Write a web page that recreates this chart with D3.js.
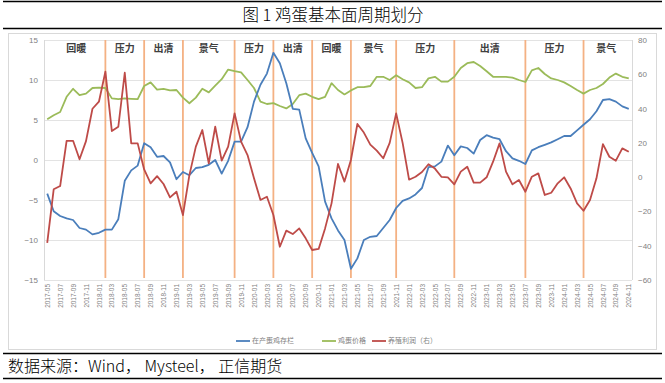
<!DOCTYPE html>
<html>
<head>
<meta charset="utf-8">
<script src="https://cdn.jsdelivr.net/npm/d3@7"></script>
<style>
  body { margin: 0; background: #fff; }
  svg { display: block; font-family: "Liberation Sans", Arial, sans-serif; }
  .cjk { font-family: "Noto Sans CJK SC", sans-serif; }
</style>
</head>
<body>
<svg width="665" height="383"></svg>
<script>
// month categories 2017-05 .. 2024-11
var months = d3.timeMonth.range(new Date(2017, 4, 1), new Date(2024, 11, 1))
  .map(d3.timeFormat("%Y-%m"));

// 在产蛋鸡存栏 (left)
var stock = [-4.2, -6.4, -7.0, -7.3, -7.5, -8.5, -8.7, -9.3, -9.1, -8.7,
  -8.7, -7.4, -2.6, -1.3, -0.7, 2.1, 1.6, 0.4, 0.5, -0.3,
  -2.4, -1.5, -1.9, -1.0, -0.9, -0.6, 0.0, -1.7, -0.1, 2.3,
  2.3, 4.1, 7.3, 9.4, 10.8, 13.4, 12.1, 9.6, 6.4, 6.3,
  2.7, 0.9, -0.8, -5.2, -7.3, -8.8, -10.0, -13.6, -12.3, -10.0,
  -9.6, -9.5, -8.5, -7.5, -6.0, -5.1, -4.8, -4.3, -3.5, -0.9,
  -0.8, -0.2, 1.8, 0.6, 1.7, 1.5, 0.8, 2.5, 3.1, 2.8,
  2.6, 1.1, 0.2, -0.1, -0.5, 1.2, 1.6, 1.9, 2.2, 2.6,
  3.0, 3.0, 3.7, 4.4, 5.1, 6.1, 7.5, 7.6, 7.3, 6.7, 6.4];

// 鸡蛋价格 (left)
var price = [5.1, 5.6, 6.0, 7.9, 8.9, 8.1, 8.3, 9.0, 9.05, 9.0,
  7.7, 7.6, 7.7, 7.65, 7.6, 9.25, 9.7, 8.8, 8.9, 8.7,
  8.75, 7.8, 7.1, 7.8, 8.9, 8.45, 9.3, 10.1, 11.3, 11.1,
  10.95, 10.0, 9.0, 7.3, 7.0, 7.1, 6.75, 6.45, 7.0, 8.1,
  8.3, 7.9, 7.6, 7.9, 9.6, 8.75, 8.2, 8.7, 9.1, 9.1,
  9.25, 10.4, 10.4, 10.0, 10.6, 10.1, 9.7, 9.0, 9.1, 10.2,
  10.4, 9.8, 9.8, 10.4, 11.5, 12.1, 12.25, 11.75, 11.1, 10.4,
  10.4, 10.4, 10.3, 10.0, 9.75, 11.2, 11.5, 10.75, 10.2, 10.0,
  9.7, 9.25, 8.75, 8.3, 8.75, 9.0, 9.5, 10.3, 10.8, 10.4, 10.2];

// 养殖利润 (right)
var profit = [-38.3, -7.1, -5.2, 21.2, 21.2, 10.4, 21.0, 39.9, 44.0, 61.5,
  26.9, 29.4, 60.9, 19.7, 19.7, 4.5, -3.6, 0.6, -4.0, -11.8,
  -8.5, -22.1, 1.2, 17.8, 27.5, 8.0, 29.4, 9.6, 17.8, 37.2,
  20.7, 12.9, -0.7, -13.3, -11.4, -22.1, -40.6, -31.2, -33.2, -29.9,
  -35.7, -42.5, -41.9, -29.9, -15.3, 7.7, -2.6, 10.0, 31.0, 26.0,
  19.0, 15.5, 11.0, 20.0, 37.2, 20.0, -1.5, 0.2, 3.0, 7.5,
  5.0, 0.2, -0.1, -4.2, 3.2, 6.1, -3.2, -3.2, -0.1, 9.0,
  19.7, 3.2, -4.2, -1.7, -8.5, 0.25, 2.2, -10.4, -9.1, -3.6,
  -0.1, -6.6, -15.3, -19.6, -13.3, -0.7, 19.3, 11.9, 9.6, 16.8, 14.8];

var phaseBreaks = ["2018-02", "2018-08", "2019-02", "2019-10", "2020-04", "2020-10",
  "2021-04", "2021-11", "2022-08", "2023-07", "2024-04"];
var phaseNames = ["回暖", "压力", "出清", "景气", "压力", "出清",
  "回暖", "景气", "压力", "出清", "压力", "景气"];

var leftTicks = [-15, -10, -5, 0, 5, 10, 15];
var rightTicks = [-60, -40, -20, 0, 20, 40, 60, 80];
var xTicks = months.filter(function (d, i) { return i % 2 === 0; });

var svg = d3.select("svg");
var margin = { top: 40, left: 44, right: 33, bottom: 103 };
var x0 = margin.left, x1 = 665 - margin.right;
var y0 = margin.top, y1 = 383 - margin.bottom;

// title and frame rules
svg.append("line").attr("x1", 3).attr("x2", 662).attr("y1", 1.5).attr("y2", 1.5)
  .attr("stroke", "#000").attr("stroke-width", 1.5);
svg.append("line").attr("x1", 3).attr("x2", 662).attr("y1", 28.5).attr("y2", 28.5)
  .attr("stroke", "#000").attr("stroke-width", 1.5);
svg.append("text").attr("class", "cjk").attr("x", 333).attr("y", 20.5)
  .attr("text-anchor", "middle").attr("font-size", 16.5).attr("font-weight", 300)
  .attr("fill", "#000")
  .text("图 1 鸡蛋基本面周期划分");
svg.append("rect").attr("x", 8.5).attr("y", 33.5).attr("width", 648).attr("height", 316)
  .attr("fill", "none").attr("stroke", "#d9d9d9");

// scales
var x = d3.scalePoint().domain(months).range([x0, x1]).padding(0.5);
var yL = d3.scaleLinear().domain([-15, 15]).range([y1, y0]);
var yR = d3.scaleLinear().domain([-60, 80]).range([y1, y0]);

// grid
svg.append("g").selectAll("line").data(leftTicks).join("line")
  .attr("x1", x0).attr("x2", x1)
  .attr("y1", function (d) { return Math.round(yL(d)) + 0.5; })
  .attr("y2", function (d) { return Math.round(yL(d)) + 0.5; })
  .attr("stroke", "#e3e3e3");
svg.append("line").attr("x1", x0 + 0.5).attr("x2", x0 + 0.5).attr("y1", y0).attr("y2", y1)
  .attr("stroke", "#d9d9d9");
svg.append("line").attr("x1", x1 + 0.5).attr("x2", x1 + 0.5).attr("y1", y0).attr("y2", y1)
  .attr("stroke", "#d9d9d9");

// axes
var leftAxis = svg.append("g").attr("transform", "translate(" + x0 + ",0)")
  .call(d3.axisLeft(yL).tickValues(leftTicks).tickSize(0).tickPadding(6));
var rightAxis = svg.append("g").attr("transform", "translate(" + x1 + ",0)")
  .call(d3.axisRight(yR).tickValues(rightTicks).tickSize(0).tickPadding(6));
var xAxis = svg.append("g").attr("transform", "translate(0," + y1 + ")")
  .call(d3.axisBottom(x).tickValues(xTicks).tickSize(0).tickPadding(0));
[leftAxis, rightAxis, xAxis].forEach(function (a) {
  a.select(".domain").remove();
  a.selectAll("text").attr("fill", "#7f7f7f").attr("font-size", 8)
    .attr("font-family", "Liberation Sans, Arial, sans-serif");
});
xAxis.selectAll("text").attr("font-size", 6.5)
  .attr("transform", "rotate(-90)").attr("text-anchor", "end")
  .attr("x", -4).attr("y", 0).attr("dy", "0.32em");

// phase dividers
svg.append("g").selectAll("line").data(phaseBreaks).join("line")
  .attr("x1", function (d) { return x(d); }).attr("x2", function (d) { return x(d); })
  .attr("y1", y0).attr("y2", y1 - 2)
  .attr("stroke", "#f4b183").attr("stroke-width", 1.8);

var bounds = [months[0]].concat(phaseBreaks).concat([months[months.length - 1]]);
svg.append("g").selectAll("text").data(phaseNames).join("text")
  .attr("class", "cjk")
  .attr("x", function (d, i) { return (x(bounds[i]) + x(bounds[i + 1])) / 2; })
  .attr("y", 52).attr("text-anchor", "middle")
  .attr("font-size", 10).attr("font-weight", "bold").attr("fill", "#404040")
  .text(function (d) { return d; });

// lines
var series = [
  { values: price, scale: yL, color: "#9bbb59" },
  { values: stock, scale: yL, color: "#4a7ebb" },
  { values: profit, scale: yR, color: "#be4b48" }
];
series.forEach(function (s) {
  var line = d3.line()
    .x(function (d, i) { return x(months[i]); })
    .y(function (d) { return s.scale(d); });
  svg.append("path").attr("d", line(s.values))
    .attr("fill", "none").attr("stroke", s.color).attr("stroke-width", 1.8)
    .attr("stroke-linejoin", "round");
});

// legend
var legendItems = [
  { name: "在产蛋鸡存栏", color: "#4a7ebb", x: 236 },
  { name: "鸡蛋价格", color: "#9bbb59", x: 322 },
  { name: "养殖利润（右）", color: "#be4b48", x: 372 }
];
var lg = svg.append("g").selectAll("g").data(legendItems).join("g")
  .attr("transform", function (d) { return "translate(" + d.x + ",341)"; });
lg.append("line").attr("x1", 0).attr("x2", 14).attr("stroke", function (d) { return d.color; })
  .attr("stroke-width", 1.8);
lg.append("text").attr("class", "cjk").attr("x", 16).attr("dy", "0.35em")
  .attr("font-size", 7).attr("fill", "#7f7f7f").text(function (d) { return d.name; });

// source
svg.append("line").attr("x1", 3).attr("x2", 662).attr("y1", 353.5).attr("y2", 353.5)
  .attr("stroke", "#000").attr("stroke-width", 1.5);
svg.append("line").attr("x1", 3).attr("x2", 662).attr("y1", 378.5).attr("y2", 378.5)
  .attr("stroke", "#000").attr("stroke-width", 1.5);
svg.append("text").attr("class", "cjk").attr("x", 8).attr("y", 371.5)
  .attr("font-size", 16).attr("font-weight", 300).attr("fill", "#000")
  .text("数据来源：Wind， Mysteel， 正信期货");
</script>
</body>
</html>
